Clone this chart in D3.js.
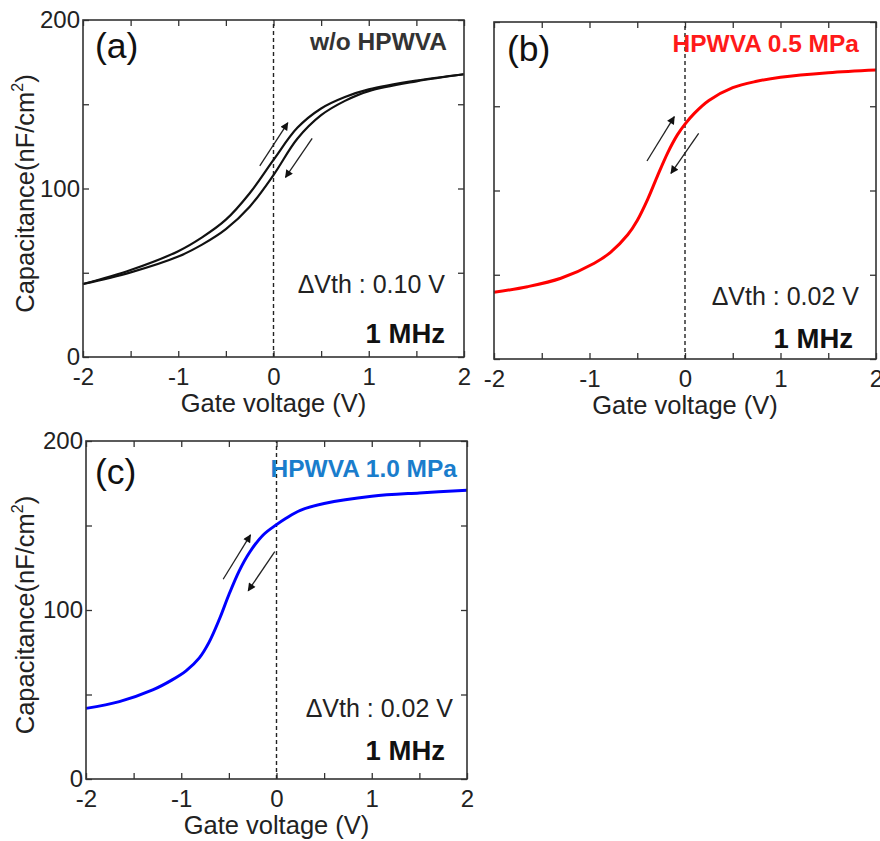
<!DOCTYPE html>
<html>
<head>
<meta charset="utf-8">
<script src="https://cdn.jsdelivr.net/npm/d3@7"></script>
<style>
  html, body { margin: 0; padding: 0; background: #fff; }
  svg { display: block; font-family: "Liberation Sans", Arial, Helvetica, sans-serif; }
</style>
</head>
<body>
<svg id="chart" width="880" height="841"></svg>
<script>
// ---------- data ----------
const xTickLabels = [-2, -1, 0, 1, 2];
const yTickLabels = [0, 100, 200];
const xDomain = [-2, 2];
const yDomain = [0, 200];

// (a) w/o HPWVA : two sweeps (hysteresis)
const voltageA = [-2, -1.5, -1, -0.75, -0.5, -0.25, 0, 0.25, 0.5, 0.75, 1, 1.5, 2];
const capA_forward = [43.3, 51.6, 62.8, 71, 81.5, 97.2, 117, 136, 147.5, 154.3, 158.8, 164, 167.8];
const capA_reverse = [43.3, 50.2, 59.6, 66.7, 75.9, 89.2, 108, 129.5, 143.5, 152, 157.8, 163.6, 167.8];

// (b) HPWVA 0.5 MPa
const voltageB = [-2, -1.65, -1.3, -0.95, -0.78, -0.6, -0.5, -0.39, -0.29, -0.18, -0.08, 0, 0.1, 0.25, 0.5, 0.75, 1, 1.5, 2];
const capB = [39.6, 42.9, 47.9, 56.8, 63.3, 73.7, 82.2, 94.9, 108.4, 122.5, 133, 139.4, 145.9, 153.4, 161, 164.8, 167.2, 169.9, 171.5];

// (c) HPWVA 1.0 MPa
const voltageC = [-2, -1.65, -1.3, -1.1, -0.95, -0.81, -0.71, -0.6, -0.5, -0.39, -0.28, -0.14, 0, 0.1, 0.25, 0.5, 1, 1.5, 2];
const capC = [41.8, 45.8, 52.7, 58.5, 64, 71.7, 80.7, 94.5, 109, 123.3, 134.3, 144.4, 150.5, 154.3, 159, 163, 167.3, 169.3, 170.8];

// sweep-direction arrows [V1, C1, V2, C2] (tail -> tip)
const arrowsA = [[-0.144, 113.4, 0.150, 139.0], [0.406, 129.8, 0.126, 106.6]];
const arrowsB = [[-0.398, 117.5, -0.112, 143.8], [0.143, 133.9, -0.147, 110.2]];
const arrowsC = [[-0.56, 118.2, -0.273, 144.4], [-0.018, 134.5, -0.297, 111.4]];

const panelLetters = ["(a)", "(b)", "(c)"];
const conditionLabels = ["w/o HPWVA", "HPWVA 0.5 MPa", "HPWVA 1.0 MPa"];
const deltaVthLabels = ["\u0394Vth : 0.10 V", "\u0394Vth : 0.02 V", "\u0394Vth : 0.02 V"];
const freqLabel = "1 MHz";
const xTitle = "Gate voltage (V)";

// ---------- layout / style ----------
const panels = [
  { box: [83, 20, 464, 357], yLabels: true, condColor: "#333333", lineColor: "#111111", lineWidth: 2.2,
    series: [[voltageA, capA_forward], [voltageA, capA_reverse]], arrows: arrowsA,
    letter: [12, 38], cond: [17, 30], dvth: [19, 64], freq: [19, 14] },
  { box: [494, 22, 876, 359], yLabels: false, condColor: "#ff1a1a", lineColor: "#ff0000", lineWidth: 3,
    series: [[voltageB, capB]], arrows: arrowsB,
    letter: [13, 39], cond: [17, 30], dvth: [17, 54], freq: [23, 11] },
  { box: [86, 441, 467, 779], yLabels: true, condColor: "#1a7dcc", lineColor: "#0000ff", lineWidth: 3,
    series: [[voltageC, capC]], arrows: arrowsC,
    letter: [9, 43], cond: [10, 36], dvth: [14, 62], freq: [22, 19] }
];

const svg = d3.select("#chart");
svg.append("rect").attr("width", 880).attr("height", 841).attr("fill", "#fff");

const defs = svg.append("defs");
defs.append("marker")
  .attr("id", "head")
  .attr("viewBox", "0 0 10 10")
  .attr("refX", 9).attr("refY", 5)
  .attr("markerUnits", "userSpaceOnUse")
  .attr("markerWidth", 11).attr("markerHeight", 8)
  .attr("orient", "auto")
  .append("path").attr("d", "M0,0 L10,5 L0,10 z").attr("fill", "#111");

const fmt = d => (d < 0 ? "-" + Math.abs(d) : String(d));
const axisColor = "#333";

panels.forEach((p, i) => {
  const [x0, y0, x1, y1] = p.box;
  const x = d3.scaleLinear().domain(xDomain).range([x0, x1]);
  const y = d3.scaleLinear().domain(yDomain).range([y1, y0]);
  const g = svg.append("g");

  const xMinor = d3.range(xDomain[0], xDomain[1] + 0.001, 0.5);
  const yMinor = d3.range(yDomain[0], yDomain[1] + 0.001, 50);

  const styleAxis = sel => {
    sel.select(".domain").remove();
    sel.selectAll(".tick line").attr("stroke", axisColor).attr("stroke-width", 1.3);
    sel.selectAll(".tick text").attr("fill", "#222").attr("font-size", 24);
  };

  // bottom
  g.append("g").attr("transform", `translate(0,${y1})`)
    .call(d3.axisBottom(x).tickValues(xMinor).tickSizeInner(-6).tickSizeOuter(0).tickPadding(11)
      .tickFormat(d => xTickLabels.includes(d) ? fmt(d) : ""))
    .call(styleAxis);
  // top
  g.append("g").attr("transform", `translate(0,${y0})`)
    .call(d3.axisTop(x).tickValues(xMinor).tickSizeInner(-6).tickSizeOuter(0).tickFormat(""))
    .call(styleAxis);
  // left
  g.append("g").attr("transform", `translate(${x0},0)`)
    .call(d3.axisLeft(y).tickValues(yMinor).tickSizeInner(-6).tickSizeOuter(0).tickPadding(3)
      .tickFormat(d => (p.yLabels && yTickLabels.includes(d)) ? fmt(d) : ""))
    .call(styleAxis);
  // right
  g.append("g").attr("transform", `translate(${x1},0)`)
    .call(d3.axisRight(y).tickValues(yMinor).tickSizeInner(-6).tickSizeOuter(0).tickFormat(""))
    .call(styleAxis);

  // dashed zero line
  g.append("line")
    .attr("x1", x(0)).attr("x2", x(0)).attr("y1", y(yDomain[0])).attr("y2", y(yDomain[1]))
    .attr("stroke", "#222").attr("stroke-width", 1.4).attr("stroke-dasharray", "4,3");

  // curves
  const line = d3.line().curve(d3.curveCatmullRom.alpha(0.5))
    .x(d => x(d[0])).y(d => y(d[1]));
  p.series.forEach(([vs, cs]) => {
    g.append("path")
      .datum(vs.map((v, k) => [v, cs[k]]))
      .attr("d", line)
      .attr("fill", "none")
      .attr("stroke", p.lineColor)
      .attr("stroke-width", p.lineWidth)
      .attr("stroke-linejoin", "round");
  });

  // arrows
  p.arrows.forEach(a => {
    g.append("line")
      .attr("x1", x(a[0])).attr("y1", y(a[1]))
      .attr("x2", x(a[2])).attr("y2", y(a[3]))
      .attr("stroke", "#222").attr("stroke-width", 1.3)
      .attr("marker-end", "url(#head)");
  });

  // frame
  g.append("rect")
    .attr("x", x0).attr("y", y0).attr("width", x1 - x0).attr("height", y1 - y0)
    .attr("fill", "none").attr("stroke", axisColor).attr("stroke-width", 1.6);

  // panel letter
  g.append("text").attr("x", x0 + p.letter[0]).attr("y", y0 + p.letter[1])
    .attr("font-size", 35.5).attr("fill", "#111").text(panelLetters[i]);

  // condition label
  g.append("text").attr("x", x1 - p.cond[0]).attr("y", y0 + p.cond[1])
    .attr("text-anchor", "end").attr("font-size", 24.5).attr("font-weight", "bold")
    .attr("fill", p.condColor).text(conditionLabels[i]);

  // delta Vth
  g.append("text").attr("x", x1 - p.dvth[0]).attr("y", y1 - p.dvth[1])
    .attr("text-anchor", "end").attr("font-size", 25).attr("fill", "#222")
    .text(deltaVthLabels[i]);

  // frequency
  g.append("text").attr("x", x1 - p.freq[0]).attr("y", y1 - p.freq[1])
    .attr("text-anchor", "end").attr("font-size", 27.5).attr("font-weight", "bold")
    .attr("fill", "#111").text(freqLabel);

  // x title
  g.append("text").attr("x", (x0 + x1) / 2).attr("y", y1 + 55)
    .attr("text-anchor", "middle").attr("font-size", 25.5).attr("fill", "#222").text(xTitle);

  // y title
  if (p.yLabels) {
    const t = g.append("text")
      .attr("transform", `translate(34,${(y0 + y1) / 2 + 5}) rotate(-90)`)
      .attr("text-anchor", "middle").attr("font-size", 25.5).attr("fill", "#222");
    t.append("tspan").text("Capacitance(nF/cm");
    t.append("tspan").attr("font-size", 16).attr("dy", -11).text("2");
    t.append("tspan").attr("dy", 11).text(")");
  }
});
</script>
</body>
</html>
